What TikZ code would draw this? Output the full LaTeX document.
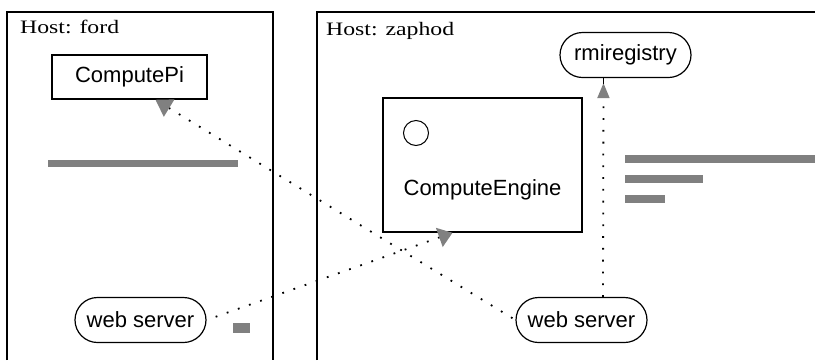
\documentclass[tikz,border=0pt]{standalone}
\usepackage{fontspec}
\setmainfont{Liberation Sans}
\newfontfamily\hostfont[FakeStretch=1.25]{Liberation Serif}
\usetikzlibrary{arrows.meta,shapes.misc}

\begin{document}
\begin{tikzpicture}[x=1pt, y=-1pt,
    hostline/.style={line width=2pt},
    hosttext/.style={anchor=base west, inner sep=0pt, font=\hostfont\fontsize{19}{22}\selectfont},
    sanstext/.style={font=\fontsize{22}{26}\selectfont},
    classbox/.style={draw, line width=1.5pt, sanstext},
    procnode/.style={draw, rounded rectangle, line width=1.2pt, minimum width=135pt,
        minimum height=45pt, inner sep=2pt, sanstext},
    dotline/.style={line width=1.8pt, dash pattern=on 1.8pt off 10pt},
    greek/.style={fill=black!50, draw=none}]
    \useasboundingbox (0,0) rectangle (815,360);

    % hosts
    \draw[hostline] (7,360) |- (273,12) -- (273,360);
    \node[hosttext] (ford) at (20,33) {Host: ford};
    \draw[hostline] (317,360) |- (815,12);
    \node[hosttext] (zaphod) at (326,35) {Host: zaphod};

    % processes and classes
    \node[classbox, minimum width=155pt, minimum height=44pt] (pi) at (129.5,77) {ComputePi};
    \node[classbox, minimum width=199pt, minimum height=134pt] (engine) at (482.5,165) {};
    \node[sanstext] (enginename) at (482.5,190) {ComputeEngine};
    \node[draw, circle, line width=1pt, minimum size=25pt, inner sep=0pt] (iface) at (416,133) {};
    \node[procnode] (registry) at (625.5,55) {rmiregistry};
    \node[procnode] (ws1) at (140.5,320) {web server};
    \node[procnode] (ws2) at (581.5,320) {web server};

    % greeked text
    \fill[greek] (48,160) rectangle (238,167);
    \fill[greek] (233,323) rectangle (250,333);
    \fill[greek] (625,155) rectangle (815,163);
    \fill[greek] (625,175) rectangle (703,183);
    \fill[greek] (625,195) rectangle (665,203);

    % connections
    \draw[dotline, {Triangle[length=16pt, width=20pt, color=black!50]}-]
        ([xshift=26pt]pi.south) -- (ws2.west);
    \draw[dotline, {Triangle[length=14pt, width=20pt, color=black!50]}-]
        ([xshift=-30pt]engine.south) -- (ws1.east);
    \draw[dotline, -{Triangle[length=15pt, width=12pt, color=black!50]}, shorten >=5pt]
        ([xshift=21.5pt]ws2.north) -- ([xshift=-22pt]registry.south);
    \draw[line width=1pt] ([xshift=-22pt]registry.south) -- ++(0,6);
\end{tikzpicture}
\end{document}
